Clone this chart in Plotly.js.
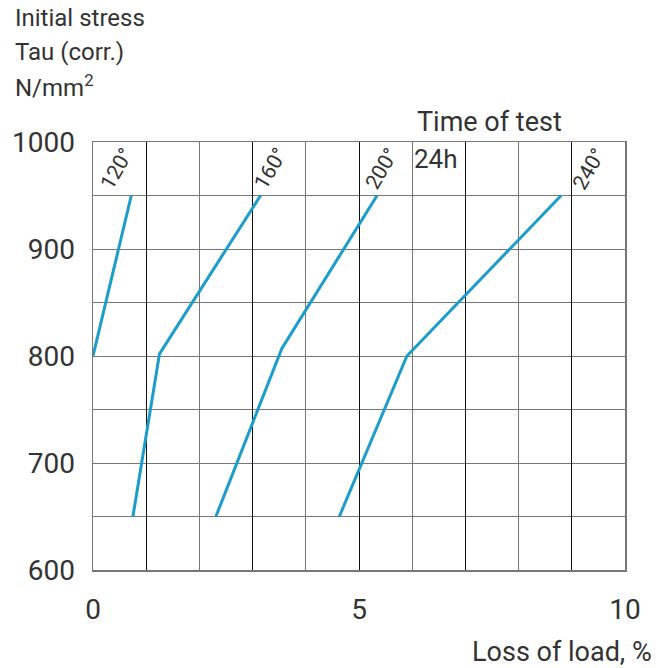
<!DOCTYPE html>
<html>
<head>
<meta charset="utf-8">
<script src="https://cdn.plot.ly/plotly-3.0.1.min.js"></script>
<style>html,body{margin:0;padding:0;background:#fff;}#chart{width:660px;height:668px;}</style>
</head>
<body>
<div id="chart"></div>
<script>
// Data (Loss of load % vs Initial stress N/mm2)
const series120 = {name: "120°", x: [0.72, 0.0], y: [950, 800]};
const series160 = {name: "160°", x: [3.15, 1.25, 0.75], y: [950, 802, 650]};
const series200 = {name: "200°", x: [5.34, 3.55, 2.31], y: [950, 807, 650]};
const series240 = {name: "240°", x: [8.8, 5.9, 4.63], y: [950, 800, 650]};
const seriesList = [series120, series160, series200, series240];
const labelX = [0.44, 3.33, 5.42, 9.32];
const labelY = [975, 975, 975, 975];
const yTickVals = [600, 700, 800, 900, 1000];
const xLabelVals = [0, 5, 10];
const xDarkGrid = [1, 3, 5, 7, 9];
const xLightGrid = [0, 2, 4, 6, 8, 10];

const FONT = "Roboto, 'Open Sans', sans-serif";
const TXT = "#333333";
const LINE = "#1b9dcc";

const traces = seriesList.map(s => ({
  type: "scatter", mode: "lines", x: s.x, y: s.y, name: s.name,
  line: {color: LINE, width: 3}, hoverinfo: "skip", showlegend: false, xaxis: "x", yaxis: "y"
}));
// invisible traces to carry the extra x axes
traces.push({type: "scatter", mode: "markers", x: [0, 10], y: [600, 600], marker: {opacity: 0}, showlegend: false, hoverinfo: "skip", xaxis: "x2", yaxis: "y"});
traces.push({type: "scatter", mode: "markers", x: [0, 10], y: [600, 600], marker: {opacity: 0}, showlegend: false, hoverinfo: "skip", xaxis: "x3", yaxis: "y"});

const annotations = seriesList.map((s, i) => ({
  x: labelX[i], y: labelY[i], xref: "x", yref: "y", text: s.name, showarrow: false,
  textangle: -60, font: {family: FONT, size: 21, color: TXT}
}));
annotations.push(
  {x: 13, y: 18, xref: "paper", yref: "paper", xanchor: "left", yanchor: "middle", text: "Initial stress", showarrow: false, font: {family: FONT, size: 24, color: TXT}},
  {x: 13, y: 52, xref: "paper", yref: "paper", xanchor: "left", yanchor: "middle", text: "Tau (corr.)", showarrow: false, font: {family: FONT, size: 24, color: TXT}},
  {x: 13, y: 86, xref: "paper", yref: "paper", xanchor: "left", yanchor: "middle", text: "N/mm<sup>2</sup>", showarrow: false, font: {family: FONT, size: 24, color: TXT}},
  {x: 415, y: 122, xref: "paper", yref: "paper", xanchor: "left", yanchor: "middle", text: "Time of test", showarrow: false, font: {family: FONT, size: 27, color: TXT}},
  {x: 412, y: 159, xref: "paper", yref: "paper", xanchor: "left", yanchor: "middle", text: "24h", showarrow: false, font: {family: FONT, size: 26, color: TXT}},
  {x: 654, y: 652, xref: "paper", yref: "paper", xanchor: "right", yanchor: "middle", text: "Loss of load, %", showarrow: false, font: {family: FONT, size: 27, color: TXT}}
);
// convert pixel-positioned paper annotations into paper fractions
const W = 660, H = 668, ML = 93, MR = 35, MT = 142, MB = 98;
const PW = W - ML - MR, PH = H - MT - MB;
annotations.forEach(a => {
  if (a.xref === "paper") { a.x = (a.x - ML) / PW; a.y = 1 - (a.y - MT) / PH; }
});

const layout = {
  width: W, height: H,
  margin: {l: ML, r: MR, t: MT, b: MB, pad: 0},
  paper_bgcolor: "#ffffff", plot_bgcolor: "#ffffff",
  showlegend: false,
  xaxis: {
    range: [0, 10], tickvals: xLightGrid, showticklabels: false,
    showgrid: true, gridcolor: "#777777", gridwidth: 1,
    zeroline: false, showline: true, linecolor: "#777777", linewidth: 1.5, mirror: true,
    ticks: "", fixedrange: true
  },
  xaxis3: {
    range: [0, 10], overlaying: "x", side: "bottom", matches: "x",
    tickvals: xDarkGrid, showticklabels: false, showgrid: true, gridcolor: "#111111", gridwidth: 1,
    zeroline: false, showline: false, ticks: ""
  },
  xaxis2: {
    range: [0, 10], overlaying: "x", side: "bottom", matches: "x",
    tickvals: xLabelVals, ticktext: xLabelVals.map(String), showgrid: false, zeroline: false,
    ticks: "outside", ticklen: 14, tickcolor: "rgba(0,0,0,0)",
    tickfont: {family: FONT, size: 28, color: TXT}, showline: false
  },
  yaxis: {
    range: [600, 1000], tickvals: yTickVals, ticktext: yTickVals.map(String),
    showgrid: true, gridcolor: "#777777", gridwidth: 1,
    minor: {dtick: 50, showgrid: true, gridcolor: "#777777", gridwidth: 1},
    zeroline: false, showline: true, linecolor: "#777777", linewidth: 1.5, mirror: true,
    ticks: "outside", ticklen: 11, tickcolor: "rgba(0,0,0,0)",
    tickfont: {family: FONT, size: 28, color: TXT}, fixedrange: true
  },
  annotations: annotations
};

Plotly.newPlot("chart", traces, layout, {displayModeBar: false, staticPlot: true});
</script>
</body>
</html>
